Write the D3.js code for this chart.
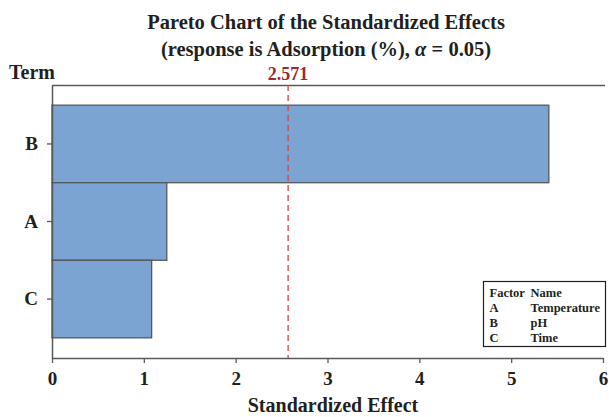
<!DOCTYPE html>
<html>
<head>
<meta charset="utf-8">
<script src="https://cdn.jsdelivr.net/npm/d3@7"></script>
<style>
  body { margin: 0; background: #fff; }
  text { font-family: "Liberation Serif", "DejaVu Serif", serif; font-weight: bold; fill: #231f20; }
</style>
</head>
<body>
<div id="chart"></div>
<script>
// data
var terms = ["B", "A", "C"];
var effects = [5.41, 1.25, 1.085];
var xTicks = [0, 1, 2, 3, 4, 5, 6];
var critical = 2.571;
var factorCodes = ["A", "B", "C"];
var factorNames = ["Temperature", "pH", "Time"];

var svgWidth = 609, svgHeight = 417;
var margin = { top: 85, right: 4, bottom: 59, left: 52 };
var width = svgWidth - margin.left - margin.right;
var height = svgHeight - margin.top - margin.bottom;

var svg = d3.select("#chart").append("svg")
    .attr("width", svgWidth)
    .attr("height", svgHeight);

var g = svg.append("g")
    .attr("transform", `translate(${margin.left}, ${margin.top})`);

var xScale = d3.scaleLinear().domain([0, 6]).range([0, 551]);
var yScale = d3.scaleBand().domain(terms).range([0, height])
    .paddingInner(0).paddingOuter(0.26);

// frame top line
g.append("line")
    .attr("x1", 0).attr("x2", width).attr("y1", 0.5).attr("y2", 0.5)
    .attr("stroke", "#58595b").attr("stroke-width", 1.5);

// bars
g.selectAll("rect.bar")
    .data(terms)
    .enter()
    .append("rect")
    .classed("bar", true)
    .attr("x", 0)
    .attr("y", d => yScale(d))
    .attr("width", (d, i) => xScale(effects[i]))
    .attr("height", yScale.bandwidth())
    .attr("fill", "#7ca4d2")
    .attr("stroke", "#54585c")
    .attr("stroke-width", 1.3);

// reference line
g.append("line")
    .attr("x1", xScale(critical)).attr("x2", xScale(critical))
    .attr("y1", 0).attr("y2", height)
    .attr("stroke", "#d6423f")
    .attr("stroke-width", 1.3)
    .attr("stroke-dasharray", "6,4");

g.append("text")
    .attr("x", xScale(critical))
    .attr("y", -5)
    .attr("text-anchor", "middle")
    .style("font-size", "18px")
    .style("fill", "#9b2a2f")
    .text(critical.toFixed(3));

// x axis
var xAxis = g.append("g")
    .attr("transform", `translate(0, ${height})`)
    .call(d3.axisBottom(xScale).tickValues(xTicks).tickSize(5).tickSizeOuter(0).tickFormat(d3.format("d")));
xAxis.select(".domain").attr("stroke", "#58595b").attr("stroke-width", 1.5);
xAxis.selectAll(".tick line").attr("stroke", "#58595b").attr("stroke-width", 1.3);
xAxis.selectAll(".tick text")
    .attr("y", 14)
    .style("font-size", "19px")
    .style("font-family", "Liberation Serif, serif")
    .style("font-weight", "bold")
    .attr("fill", "#231f20");

// y axis
var yAxis = g.append("g")
    .call(d3.axisLeft(yScale).tickSize(5).tickSizeOuter(0));
yAxis.select(".domain").attr("stroke", "#58595b").attr("stroke-width", 1.5);
yAxis.selectAll(".tick line").attr("stroke", "#58595b").attr("stroke-width", 1.3);
yAxis.selectAll(".tick text")
    .attr("x", -14)
    .style("font-size", "19px")
    .style("font-family", "Liberation Serif, serif")
    .style("font-weight", "bold")
    .attr("fill", "#231f20");

// titles
svg.append("text")
    .attr("x", 326).attr("y", 29)
    .attr("text-anchor", "middle")
    .style("font-size", "20.5px")
    .text("Pareto Chart of the Standardized Effects");

svg.append("text")
    .attr("x", 326).attr("y", 56)
    .attr("text-anchor", "middle")
    .style("font-size", "20.5px")
    .html("(response is Adsorption (%), <tspan font-style='italic'>α</tspan> = 0.05)");

svg.append("text")
    .attr("x", 9).attr("y", 79)
    .style("font-size", "20px")
    .text("Term");

svg.append("text")
    .attr("x", 333).attr("y", 412)
    .attr("text-anchor", "middle")
    .style("font-size", "20px")
    .text("Standardized Effect");

// legend
var leg = svg.append("g").attr("transform", "translate(483.5, 281.5)");
leg.append("rect")
    .attr("width", 122).attr("height", 65)
    .attr("fill", "#fff")
    .attr("stroke", "#231f20")
    .attr("stroke-width", 1.2);
leg.append("text").attr("x", 6).attr("y", 15).style("font-size", "12.5px").text("Factor");
leg.append("text").attr("x", 47).attr("y", 15).style("font-size", "12.5px").text("Name");
leg.selectAll("text.code")
    .data(factorCodes)
    .enter()
    .append("text")
    .classed("code", true)
    .attr("x", 6)
    .attr("y", (d, i) => 30 + i * 15)
    .style("font-size", "12.5px")
    .text(d => d);
leg.selectAll("text.name")
    .data(factorNames)
    .enter()
    .append("text")
    .classed("name", true)
    .attr("x", 47)
    .attr("y", (d, i) => 30 + i * 15)
    .style("font-size", "12.5px")
    .text(d => d);
</script>
</body>
</html>
